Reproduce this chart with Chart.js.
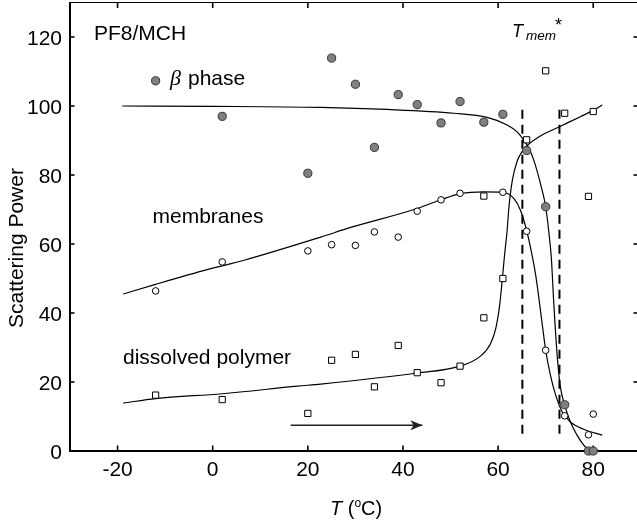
<!DOCTYPE html>
<html lang="en">
<head>
<meta charset="UTF-8">
<title>PF8/MCH Scattering Power</title>
<script src="https://cdn.jsdelivr.net/npm/chart.js"></script>
<style>
  body { margin: 0; background: #fff; }
  #wrap { width: 637px; height: 524px; }
</style>
</head>
<body>
<div id="wrap"><canvas id="chart" width="637" height="524"></canvas></div>
<script>
// measured points: temperature (°C) and scattering power
var betaT = [2, 20, 25, 30, 34, 39, 43, 48, 52, 57, 61, 66, 70, 74, 79, 80];
var betaP = [97.0, 80.5, 113.9, 106.3, 88.0, 103.3, 100.4, 95.1, 101.3, 95.3, 97.6, 87.1, 70.8, 13.4, 0, 0];
var membT = [-12, 2, 20, 25, 30, 34, 39, 43, 48, 52, 61, 66, 70, 74, 79, 80];
var membP = [46.4, 54.8, 58.0, 59.8, 59.6, 63.5, 62.0, 69.5, 72.8, 74.7, 75.0, 63.7, 29.2, 10.2, 4.7, 10.7];
var dissT = [-12, 2, 20, 25, 30, 34, 39, 43, 48, 52, 57, 57, 61, 66, 70, 74, 79, 80];
var dissP = [16.2, 14.9, 10.9, 26.3, 28.0, 18.6, 30.6, 22.7, 19.8, 24.6, 38.6, 73.9, 50.0, 90.2, 110.2, 97.9, 73.8, 98.4];

// fitted curves
var betaFitT = [-19, 0, 22.7, 36.7, 50.7, 57.7, 61.9, 64, 65.4, 66.5, 67.5, 68.9, 70.0, 70.7, 71.2, 71.7, 72.4, 73.1, 74.0, 75.2, 76.6, 78.0, 79.1];
var betaFitP = [100.0, 99.9, 99.6, 99.0, 97.9, 96.7, 94.5, 92.5, 90.1, 87.7, 84.3, 77.5, 70.8, 63.0, 55.8, 43.0, 28.0, 18.5, 13.3, 8.4, 4.6, 1.7, 0.2];
var membFitT = [-18.8, -12, -0.8, 6.6, 22.7, 29, 43, 48.1, 52.1, 57, 61, 63.3, 64.7, 65.8, 66.5, 67.9, 69.3, 70.0, 71.0, 72.1, 73.5, 75.2, 78.0, 81.9];
var membFitP = [45.5, 48.3, 52.7, 55.3, 62.0, 64.8, 70.3, 72.9, 74.6, 75.1, 75.0, 73.2, 69.8, 65.0, 61.0, 51.0, 36.5, 29.2, 22.0, 16.2, 11.3, 8.4, 6.3, 4.6];
var dissFitT = [-18.8, -12, 2, 17.8, 22.7, 43, 52, 56.3, 58.4, 59.5, 60.3, 60.9, 61.3, 61.9, 62.3, 63.0, 64.0, 65.1, 66.1, 68.6, 72.9, 77.3, 80.1, 81.9];
var dissFitP = [13.9, 15.2, 16.6, 18.8, 19.4, 22.6, 24.6, 27.5, 31.1, 35.5, 42.0, 50.0, 56.0, 64.0, 71.0, 78.5, 84.0, 86.9, 88.5, 91.1, 94.0, 96.9, 98.8, 100.3];

// T_mem* bounds, legend key, heating arrow
var tmemT = [65.1, 72.9];
var tmemP = [5, 100.3];
var betaKeyT = [-12];
var betaKeyP = [107.3];
var arrowT = [16.4, 44.1];
var arrowP = [7.5, 7.5];

var xTicks = [-20, 0, 20, 40, 60, 80];
var yTicks = [0, 20, 40, 60, 80, 100, 120];

var FONT = '"Liberation Sans", Arial, sans-serif';

function pts(xs, ys) {
    return xs.map(function (x, i) { return { x: x, y: ys[i] }; });
}

function fitLine(xs, ys) {
    return {
        data: pts(xs, ys), showLine: true, pointRadius: 0, borderColor: '#000',
        borderWidth: 1.2, cubicInterpolationMode: 'monotone', fill: false
    };
}

var datasets = [
    { data: pts(betaT, betaP), pointRadius: 4.1, backgroundColor: '#808080', borderColor: '#333', borderWidth: 1, clip: false },
    { data: pts(betaKeyT, betaKeyP), pointRadius: 4.1, backgroundColor: '#808080', borderColor: '#333', borderWidth: 1 },
    { data: pts(membT, membP), pointRadius: 3.3, backgroundColor: '#fff', borderColor: '#000', borderWidth: 1, clip: false },
    { data: pts(dissT, dissP), pointStyle: 'rect', pointRadius: 4.4, backgroundColor: '#fff', borderColor: '#000', borderWidth: 1, clip: false },
    fitLine(betaFitT, betaFitP),
    fitLine(membFitT, membFitP),
    fitLine(dissFitT, dissFitP)
];
tmemT.forEach(function (t) {
    datasets.push({
        data: pts([t, t], tmemP), showLine: true, pointRadius: 0,
        borderColor: '#000', borderWidth: 2, borderDash: [9, 6]
    });
});
datasets.push({ data: pts(arrowT, arrowP), showLine: true, pointRadius: 0, borderColor: '#222', borderWidth: 1.5 });

function seg(ctx, x1, y1, x2, y2) {
    ctx.beginPath(); ctx.moveTo(x1, y1); ctx.lineTo(x2, y2); ctx.stroke();
}

// fixed axis boxes, no automatic label padding
function noPad(s) {
    s.paddingTop = 0; s.paddingBottom = 0; s.paddingLeft = 0; s.paddingRight = 0;
}

var frame = {
    id: 'frame',
    beforeDatasetsDraw: function (chart) {
        var ctx = chart.ctx, a = chart.chartArea, xs = chart.scales.x, ys = chart.scales.y;
        ctx.save();
        ctx.strokeStyle = '#000';
        ctx.lineWidth = 1.2;
        seg(ctx, a.left, a.top, a.right, a.top);
        ctx.lineWidth = 2;
        ctx.beginPath();
        ctx.moveTo(a.left, a.top - 0.6);
        ctx.lineTo(a.left, a.bottom);
        ctx.lineTo(a.right, a.bottom);
        ctx.stroke();
        ctx.lineWidth = 1.6;
        xTicks.forEach(function (v) {
            var px = xs.getPixelForValue(v);
            seg(ctx, px, a.bottom, px, a.bottom - 5.5);
            seg(ctx, px, a.top, px, a.top + 5.5);
        });
        yTicks.forEach(function (v) {
            var py = ys.getPixelForValue(v);
            seg(ctx, a.left, py, a.left + 4.5, py);
            seg(ctx, a.right - 3.5, py, a.right, py);
        });

        // tick labels
        ctx.fillStyle = '#000';
        ctx.font = '21px ' + FONT;
        ctx.textBaseline = 'alphabetic';
        ctx.textAlign = 'center';
        xTicks.forEach(function (v) {
            ctx.fillText(String(v), xs.getPixelForValue(v), a.bottom + 24.5);
        });
        ctx.textAlign = 'right';
        yTicks.forEach(function (v) {
            ctx.fillText(String(v), a.left - 8, ys.getPixelForValue(v) + 7.5);
        });
        ctx.restore();
    }
};

var labels = {
    id: 'labels',
    afterDraw: function (chart) {
        var ctx = chart.ctx, xs = chart.scales.x, ys = chart.scales.y;
        ctx.save();
        ctx.fillStyle = '#000';
        ctx.textBaseline = 'alphabetic';
        ctx.textAlign = 'left';

        // arrow head
        var hx = xs.getPixelForValue(arrowT[1]), hy = ys.getPixelForValue(arrowP[1]);
        ctx.fillStyle = '#222';
        ctx.beginPath();
        ctx.moveTo(hx, hy);
        ctx.lineTo(hx - 12, hy - 5);
        ctx.lineTo(hx - 9, hy);
        ctx.lineTo(hx - 12, hy + 5);
        ctx.closePath();
        ctx.fill();
        ctx.fillStyle = '#000';

        ctx.font = '21px ' + FONT;
        ctx.fillText('PF8/MCH', 94, 39.5);
        ctx.fillText('phase', 188, 85);
        ctx.fillText('membranes', 152.5, 223.3);
        ctx.fillText('dissolved polymer', 123, 364);
        ctx.font = 'italic 22px "Liberation Serif", "DejaVu Serif", serif';
        ctx.fillText('\u03B2', 170, 85);

        // T_mem*
        ctx.font = 'italic 18px ' + FONT;
        ctx.fillText('T', 512, 36.7);
        ctx.font = 'italic 13.5px ' + FONT;
        ctx.fillText('mem', 526, 39.5);
        ctx.font = '18px ' + FONT;
        ctx.fillText('*', 555, 31);

        // x axis title: T (°C)
        var x = 330, base = 515;
        ctx.font = 'italic 20px ' + FONT;
        ctx.fillText('T', x, base);
        x += ctx.measureText('T ').width;
        ctx.font = '20px ' + FONT;
        ctx.fillText('(', x, base);
        x += ctx.measureText('(').width;
        ctx.font = '12px ' + FONT;
        ctx.fillText('o', x, base - 8);
        x += ctx.measureText('o').width;
        ctx.font = '20px ' + FONT;
        ctx.fillText('C)', x, base);

        // y axis title
        ctx.translate(23, 248);
        ctx.rotate(-Math.PI / 2);
        ctx.textAlign = 'center';
        ctx.font = '21px ' + FONT;
        ctx.fillText('Scattering Power', 0, 0);
        ctx.restore();
    }
};

new Chart(document.getElementById('chart').getContext('2d'), {
    type: 'scatter',
    data: { datasets: datasets },
    options: {
        responsive: false,
        animation: false,
        layout: { autoPadding: false, padding: { top: 2.5, right: 0, left: 0, bottom: 0 } },
        plugins: { legend: { display: false }, tooltip: { enabled: false } },
        scales: {
            x: {
                type: 'linear', min: -30, max: 89.2,
                grid: { display: false }, border: { display: false },
                afterBuildTicks: function (s) { s.ticks = xTicks.map(function (v) { return { value: v }; }); },
                afterFit: function (s) { s.height = 73; noPad(s); },
                ticks: { display: false }
            },
            y: {
                type: 'linear', min: 0, max: 130,
                grid: { display: false }, border: { display: false },
                afterBuildTicks: function (s) { s.ticks = yTicks.map(function (v) { return { value: v }; }); },
                afterFit: function (s) { s.width = 70; noPad(s); },
                ticks: { display: false }
            }
        }
    },
    plugins: [frame, labels]
});
</script>
</body>
</html>
